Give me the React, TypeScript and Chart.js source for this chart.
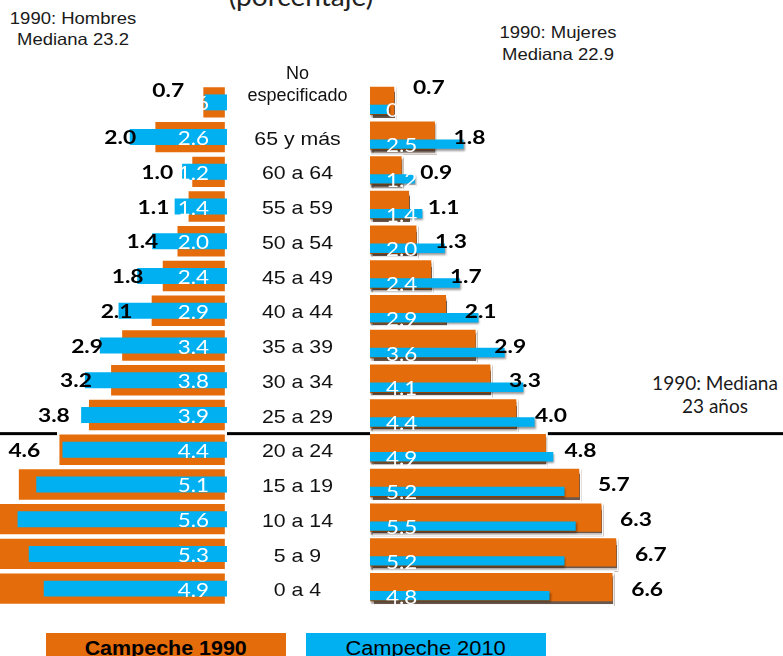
import React, { useEffect, useRef } from 'react';
import { Chart, registerables } from 'chart.js';

Chart.register(...registerables);

// ---- Data ----
const ageGroups: (string | string[])[] = [
  ['No', 'especificado'], '65 y más', '60 a 64', '55 a 59', '50 a 54', '45 a 49', '40 a 44',
  '35 a 39', '30 a 34', '25 a 29', '20 a 24', '15 a 19', '10 a 14', '5 a 9', '0 a 4',
];
const hombres1990 = [0.7, 2.0, 1.0, 1.1, 1.4, 1.8, 2.1, 2.9, 3.2, 3.8, 4.6, 5.7, 6.5, 6.9, 6.8];
const hombres2010 = [0.6, 2.6, 1.2, 1.4, 2.0, 2.4, 2.9, 3.4, 3.8, 3.9, 4.4, 5.1, 5.6, 5.3, 4.9];
const mujeres1990 = [0.7, 1.8, 0.9, 1.1, 1.3, 1.7, 2.1, 2.9, 3.3, 4.0, 4.8, 5.7, 6.3, 6.7, 6.6];
const mujeres2010 = [0.5, 2.5, 1.2, 1.4, 2.0, 2.4, 2.9, 3.6, 4.1, 4.4, 4.9, 5.2, 5.5, 5.2, 4.8];
const medianGroup = '25 a 29'; // 1990 median line lies just below this group
const seriesNames = ['Campeche 1990', 'Campeche 2010'];

const ORANGE = '#E46C0A';
const BLUE = '#00B0F0';
const labelKeys = ageGroups.map((g) => (Array.isArray(g) ? g.join(' ') : g));

function drawText(ctx: CanvasRenderingContext2D, text: string, x: number, y: number, font: string, color: string, align: CanvasTextAlign, sx: number) {
  ctx.save();
  ctx.font = font;
  ctx.fillStyle = color;
  ctx.textAlign = align;
  ctx.textBaseline = 'alphabetic';
  ctx.translate(x, y);
  ctx.scale(sx, 1);
  ctx.fillText(text, 0, 0);
  ctx.restore();
}

const medianLine = {
  id: 'medianLine',
  beforeDatasetsDraw(chart: any) {
    const y = chart.scales.y;
    const i = labelKeys.indexOf(medianGroup);
    const py = (y.getPixelForValue(i) + y.getPixelForValue(i + 1)) / 2 + 1.3;
    const ctx = chart.ctx;
    ctx.save();
    ctx.fillStyle = '#000';
    ctx.fillRect(0, py - 1.5, chart.width, 3);
    ctx.restore();
  },
};

const shadowPlugin = {
  id: 'shadowPlugin',
  beforeDatasetDraw(chart: any, args: any) {
    const ds: any = chart.data.datasets[args.index];
    const ctx = chart.ctx;
    ctx.save();
    if (ds.shiftY) ctx.translate(0, ds.shiftY);
    if (ds.shadow) {
      ctx.shadowColor = ds.shadow.color;
      ctx.shadowOffsetX = ds.shadow.x;
      ctx.shadowOffsetY = ds.shadow.y;
      ctx.shadowBlur = ds.shadow.blur;
    }
  },
  afterDatasetDraw(chart: any) {
    chart.ctx.restore();
  },
};

const leftLabels = {
  id: 'leftLabels',
  afterDatasetsDraw(chart: any) {
    const { ctx } = chart;
    const y = chart.scales.y;
    const xo = chart.scales.xo;
    const xb = chart.scales.xb;
    hombres2010.forEach((v, i) =>
      drawText(ctx, v.toFixed(1), xb.getPixelForValue(0) - 18, y.getPixelForValue(i) + 1 + 7, '19px Lato', '#fff', 'right', 1.18));
    hombres1990.forEach((v, i) =>
      drawText(ctx, v.toFixed(1), xo.getPixelForValue(v) - 17, y.getPixelForValue(i) + (i === 0 ? -12 : 0) + 7, 'bold 19px Lato', '#000', 'right', 1.2));
  },
};

const rightLabels = {
  id: 'rightLabels',
  afterDatasetsDraw(chart: any) {
    const { ctx, chartArea } = chart;
    const y = chart.scales.y;
    const xo = chart.scales.xo;
    mujeres2010.forEach((v, i) =>
      drawText(ctx, v.toFixed(1), chartArea.left + 16, y.getPixelForValue(i) + 8 + 7, '19px Lato', '#fff', 'left', 1.18));
    mujeres1990.forEach((v, i) =>
      drawText(ctx, v.toFixed(1), xo.getPixelForValue(v) + 17, y.getPixelForValue(i) + (i === 0 ? -15 : 0) + 7, 'bold 19px Lato', '#000', 'left', 1.2));
    const cx = chartArea.left - 72.5;
    ageGroups.forEach((g, i) => {
      const c = y.getPixelForValue(i);
      if (Array.isArray(g)) {
        g.forEach((line, k) =>
          drawText(ctx, line, cx, c - 29.4 + k * 22 + 6.5, '18px "Liberation Sans", Arial, sans-serif', '#111', 'center', 1.0));
      } else {
        drawText(ctx, g, cx, c + 1 + 6.6, '18.5px "Liberation Sans", Arial, sans-serif', '#111', 'center', 1.15);
      }
    });
  },
};

function baseOptions(reverse: boolean, maxO: number, maxB: number, padLeft: number): any {
  return {
    indexAxis: 'y',
    responsive: false,
    maintainAspectRatio: false,
    animation: false,
    events: [],
    devicePixelRatio: 1,
    layout: { padding: { top: 25, bottom: 14, left: padLeft, right: 0 } },
    plugins: { legend: { display: false }, tooltip: { enabled: false }, title: { display: false } },
    scales: {
      y: { type: 'category', display: false, offset: true, grid: { display: false } },
      x: { display: false },
      xo: { type: 'linear', axis: 'x', display: false, reverse, min: 0, max: maxO },
      xb: { type: 'linear', axis: 'x', display: false, reverse, min: 0, max: maxB },
    },
  };
}

export default function App() {
  const leftRef = useRef<HTMLCanvasElement>(null);
  const rightRef = useRef<HTMLCanvasElement>(null);

  useEffect(() => {
    const left = new Chart(leftRef.current as HTMLCanvasElement, {
      type: 'bar',
      data: {
        labels: labelKeys,
        datasets: [
          {
            label: seriesNames[1], data: hombres2010, xAxisID: 'xb', backgroundColor: BLUE,
            grouped: false, barPercentage: 0.46, categoryPercentage: 1, borderWidth: 0,
          } as any,
          {
            label: seriesNames[0], data: hombres1990, xAxisID: 'xo', backgroundColor: ORANGE,
            grouped: false, barPercentage: 1, categoryPercentage: 1, borderColor: '#fff', borderWidth: 2.5, borderSkipped: false,
          } as any,
        ],
      },
      options: baseOptions(true, 227 / 36.9, 227 / 37.4, 0),
      plugins: [medianLine, shadowPlugin, leftLabels],
    });

    const right = new Chart(rightRef.current as HTMLCanvasElement, {
      type: 'bar',
      data: {
        labels: labelKeys,
        datasets: [
          {
            label: seriesNames[1], data: mujeres2010, xAxisID: 'xb', backgroundColor: BLUE,
            grouped: false, barPercentage: 0.27, categoryPercentage: 1, borderWidth: 0,
            shiftY: 7, shadow: { color: 'rgba(0,0,0,0.4)', x: 1, y: 2, blur: 2 },
          } as any,
          {
            label: seriesNames[0], data: mujeres1990, xAxisID: 'xo', backgroundColor: ORANGE,
            grouped: false, barPercentage: 1, categoryPercentage: 1, borderColor: '#fff',
            borderWidth: { top: 2, right: 2, bottom: 5, left: 0 }, borderSkipped: 'start',
            shadow: { color: 'rgba(70,45,30,0.8)', x: 1, y: 3, blur: 1.5 },
          } as any,
        ],
      },
      options: baseOptions(false, 413 / 37.0, 413 / 37.4, 143),
      plugins: [medianLine, shadowPlugin, rightLabels],
    });

    return () => {
      left.destroy();
      right.destroy();
    };
  }, []);

  const arial = '"Liberation Sans", Arial, sans-serif';
  const centered = (x: number, sx: number): React.CSSProperties => ({
    position: 'absolute', left: x, transform: `translateX(-50%) scaleX(${sx})`, whiteSpace: 'nowrap', textAlign: 'center',
  });

  return (
    <div style={{ position: 'absolute', left: 0, top: 0, width: 783, height: 656, overflow: 'hidden', background: '#fff', fontFamily: arial, color: '#1a1a1a' }}>
      <div style={{ ...centered(301, 1.08), top: -19, fontFamily: 'Lato, sans-serif', fontSize: 26, lineHeight: '30px', color: '#222' }}>(porcentaje)</div>
      <div style={{ ...centered(73, 1.12), top: 7.5, fontSize: 16.5, lineHeight: '21.5px' }}>1990: Hombres<br />Mediana 23.2</div>
      <div style={{ ...centered(557.5, 1.12), top: 21, fontSize: 16.5, lineHeight: '22px' }}>1990: Mujeres<br />Mediana 22.9</div>
      <div style={{ ...centered(715, 1), top: 370.5, fontFamily: 'Lato, sans-serif', fontSize: 19, lineHeight: '23px' }}>1990: Mediana<br />23 años</div>
      <canvas ref={leftRef} width={227} height={560} style={{ position: 'absolute', left: 0, top: 60, width: 227, height: 560 }} />
      <canvas ref={rightRef} width={556} height={560} style={{ position: 'absolute', left: 227, top: 60, width: 556, height: 560 }} />
      <div style={{ position: 'absolute', left: 46, top: 633, width: 240, height: 30, background: ORANGE, display: 'flex', alignItems: 'center', justifyContent: 'center' }}>
        <span style={{ display: 'inline-block', transform: 'scaleX(1.1)', fontWeight: 'bold', fontSize: 19.5, color: '#000', whiteSpace: 'nowrap' }}>{seriesNames[0]}</span>
      </div>
      <div style={{ position: 'absolute', left: 306, top: 633, width: 240, height: 30, background: BLUE, display: 'flex', alignItems: 'center', justifyContent: 'center' }}>
        <span style={{ display: 'inline-block', transform: 'scaleX(1.12)', fontSize: 19.5, color: '#000', whiteSpace: 'nowrap' }}>{seriesNames[1]}</span>
      </div>
    </div>
  );
}
